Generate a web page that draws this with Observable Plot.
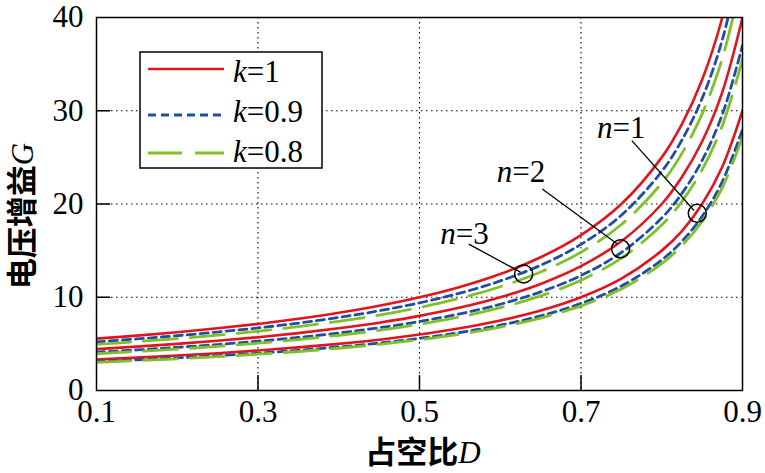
<!DOCTYPE html>
<html><head><meta charset="utf-8">
<script src="https://cdn.jsdelivr.net/npm/d3@7"></script>
<script src="https://cdn.jsdelivr.net/npm/@observablehq/plot@0.6"></script>
<style>
body{margin:0;background:#fff}
svg text, svg tspan { font-family: 'Liberation Serif', 'Times New Roman', 'DejaVu Serif', serif !important; }
svg tspan.cjk { font-family: 'Noto Sans CJK SC', sans-serif !important; font-weight: 700; }
</style>
</head><body><div id="chart"></div>
<script>
// Duty cycle samples
const D = [0.1,0.15,0.2,0.25,0.3,0.35,0.4,0.45,0.5,0.55,0.6,0.65,0.7,0.75,0.8,0.825,0.85,0.875,0.9];
// k = 1
const k1n1 = [3.33,3.53,3.75,4.0,4.29,4.62,5.0,5.45,6.0,6.67,7.5,8.57,10.0,12.0,15.0,17.1,20.0,24.0,30.0];
const k1n2 = [4.44,4.71,5.0,5.33,5.71,6.15,6.67,7.27,8.0,8.89,10.0,11.43,13.33,16.0,20.0,22.9,26.7,32.0,40.0];
const k1n3 = [5.56,5.88,6.25,6.67,7.14,7.69,8.33,9.09,10.0,11.11,12.5,14.29,16.67,20.0,25.0,28.57,33.33,40.0,50.0];
// k = 0.9
const k09n1 = [3.1,3.29,3.5,3.73,4.0,4.31,4.67,5.09,5.6,6.22,7.0,8.0,9.33,11.2,14.0,16.0,18.67,22.4,28.0];
const k09n2 = [4.11,4.35,4.63,4.93,5.29,5.69,6.17,6.73,7.4,8.22,9.25,10.57,12.33,14.8,18.5,21.14,24.67,29.6,37.0];
const k09n3 = [5.22,5.53,5.88,6.27,6.71,7.23,7.83,8.55,9.4,10.44,11.75,13.43,15.67,18.8,23.5,26.86,31.33,37.6,47.0];
// k = 0.8
const k08n1 = [3.02,3.2,3.4,3.63,3.89,4.18,4.53,4.95,5.44,6.04,6.8,7.77,9.07,10.88,13.6,15.54,18.13,21.76,27.2];
const k08n2 = [3.94,4.18,4.44,4.73,5.07,5.46,5.92,6.45,7.1,7.89,8.88,10.14,11.83,14.2,17.75,20.29,23.67,28.4,35.5];
const k08n3 = [4.94,5.24,5.56,5.93,6.36,6.85,7.42,8.09,8.9,9.89,11.13,12.71,14.83,17.8,22.25,25.43,29.67,35.6,44.5];

const xTicks = [0.1,0.3,0.5,0.7,0.9];
const yTicks = [0,10,20,30,40];
const gridX = [0.3,0.5,0.7];
const gridY = [10,20,30];

const legendLabels = ["1","0.9","0.8"];
const nLabels = ["=1","=2","=3"];
const circleD = [0.844,0.749,0.629];
const circleG = [19.0,15.2,12.5];
const labelD = [0.739,0.615,0.545];
const labelG = [28.1,23.4,16.8];
const leadStartD = [0.763,0.652,0.561];
const leadStartG = [26.8,21.6,15.7];
const leadEndD = [0.840,0.745,0.625];
const leadEndG = [19.3,15.7,12.7];

const styles = [
  {stroke:"#e0151f", strokeWidth:2.6, dash:null},
  {stroke:"#1f4f9f", strokeWidth:2.8, dash:"8,5"},
  {stroke:"#80c02a", strokeWidth:2.8, dash:"34,13"}
];
const seriesByK = [[k1n1,k1n2,k1n3],[k09n1,k09n2,k09n3],[k08n1,k08n2,k08n3]];
const tables = seriesByK.map(group => group.flatMap((vals,ni) => vals.map((g,i)=>({D:D[i], G:g, n:ni+1}))));

const ann = circleD.map((d,i)=>({cd:d, cg:circleG[i], ld:labelD[i], lg:labelG[i], txt:nLabels[i],
  sd:leadStartD[i], sg:leadStartG[i], ed:leadEndD[i], eg:leadEndG[i]}));

const W=765, H=473;
const plot = Plot.plot({
  width: W, height: H,
  marginLeft: 96, marginRight: 23, marginTop: 17, marginBottom: 83,
  style: {fontSize: "31px", background: "white", color:"black"},
  x: {domain: [0.1,0.9]},
  y: {domain: [0,40]},
  marks: [
    Plot.ruleX(gridX, {stroke:"black", strokeWidth:1.1, strokeDasharray:"1.5,3.5"}),
    Plot.ruleY(gridY, {stroke:"black", strokeWidth:1.1, strokeDasharray:"1.5,3.5"}),
    Plot.ruleX(gridX, {x:d=>d, y1:0, y2:1.6, stroke:"black", strokeWidth:1.5}),
    Plot.ruleY(gridY, {y:d=>d, x1:0.1, x2:0.1175, stroke:"black", strokeWidth:1.5}),
    ...tables.map((t,i)=>Plot.line(t, {x:"D", y:"G", z:"n", stroke:styles[i].stroke, strokeWidth:styles[i].strokeWidth,
      strokeDasharray:styles[i].dash, curve:"catmull-rom", clip:true})),
    Plot.frame({stroke:"black", strokeWidth:1.5}),
    Plot.axisX({ticks:xTicks, tickSize:0, tickPadding:9, tickFormat:d=>d.toFixed(1), label:null, fontSize:31}),
    Plot.axisY({ticks:yTicks, tickSize:0, tickPadding:13, label:null, fontSize:31}),
    Plot.link(ann, {x1:"sd", y1:"sg", x2:"ed", y2:"eg", stroke:"black", strokeWidth:1.3}),
    Plot.dot(ann, {x:"cd", y:"cg", r:9, stroke:"black", strokeWidth:1.5, fill:"none"}),
    Plot.text(ann, {x:"ld", y:"lg", text:()=>"n", textAnchor:"end", fontStyle:"italic", fontSize:31}),
    Plot.text(ann, {x:"ld", y:"lg", text:"txt", textAnchor:"start", fontSize:31})
  ]
});
document.getElementById("chart").appendChild(plot);

const svg = d3.select(plot);
// Legend
const lg = svg.append("g");
lg.append("rect").attr("x",140).attr("y",52).attr("width",182).attr("height",116)
  .attr("fill","white").attr("stroke","black").attr("stroke-width",1.5);
const lineY = [69,115,153];
const textY = [82,122,162];
legendLabels.forEach((lab,i)=>{
  lg.append("line").attr("x1",148).attr("x2",224).attr("y1",lineY[i]).attr("y2",lineY[i])
    .attr("stroke",styles[i].stroke).attr("stroke-width",styles[i].strokeWidth)
    .attr("stroke-dasharray",styles[i].dash);
  const t = lg.append("text").attr("x",233).attr("y",textY[i]).attr("text-anchor","start")
    .style("font-size","31px");
  t.append("tspan").style("font-style","italic").text("k");
  t.append("tspan").text("=" + lab);
});
// Axis titles
const yl = svg.append("text").attr("transform","translate(33,216) rotate(-90)").attr("text-anchor","middle")
  .style("font-size","31px");
yl.append("tspan").attr("class","cjk").text("电压增益");
yl.append("tspan").style("font-style","italic").text("G");
const xl = svg.append("text").attr("x",423).attr("y",463).attr("text-anchor","middle").style("font-size","31px");
xl.append("tspan").attr("class","cjk").text("占空比");
xl.append("tspan").style("font-style","italic").text("D");
</script></body></html>
